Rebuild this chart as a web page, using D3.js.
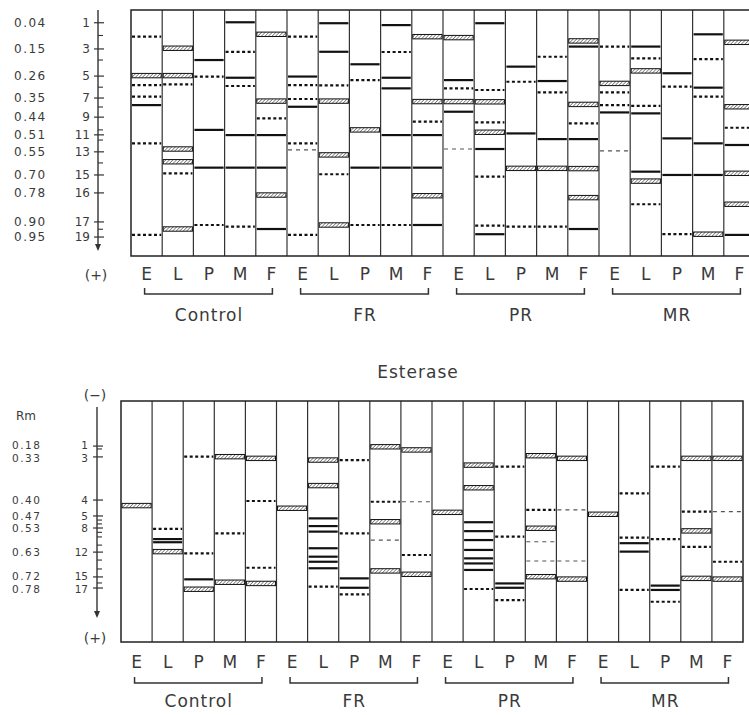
<!DOCTYPE html>
<html>
<head>
<meta charset="utf-8">
<script src="https://cdn.jsdelivr.net/npm/d3@7"></script>
<style>
  body { margin: 0; background: #fff; }
  text { font-family: "DejaVu Sans", sans-serif; fill: #3a3a3a; }
</style>
</head>
<body>
<script>
// lanes and treatment groups
const lanes = ["E", "L", "P", "M", "F"];
const groups = ["Control", "FR", "PR", "MR"];

// top gel: tick positions (Rm) and labels
const topTickNum = ["1", "3", "5", "7", "9", "11", "13", "15", "16", "17", "19"];
const topTickRm = [0.043, 0.154, 0.269, 0.362, 0.443, 0.518, 0.59, 0.688, 0.764, 0.887, 0.951];
const topRmLabel = ["0.04", "0.15", "0.26", "0.35", "0.44", "0.51", "0.55", "0.70", "0.78", "0.90", "0.95"];
const topMinorRm = [0.097, 0.201, 0.316, 0.40, 0.497, 0.54, 0.637, 0.918];

// bottom gel (esterase): relative position down the gel
const botTickNum = ["1", "3", "4", "5", "8", "12", "15", "17"];
const botTickPos = [0.187, 0.232, 0.411, 0.477, 0.527, 0.627, 0.73, 0.776];
const botRmLabel = ["0.18", "0.33", "0.40", "0.47", "0.53", "0.63", "0.72", "0.78"];
const botMinorPos = [0.199, 0.494, 0.510, 0.545, 0.564, 0.598, 0.66, 0.697, 0.755];

// bands: [position, type]  s = solid, h = hatched double, d = dashed, t = thin dashed
const topControl = [
  [[0.102,"d"],[0.267,"h"],[0.307,"d"],[0.356,"d"],[0.392,"s"],[0.554,"d"],[0.942,"d"]],
  [[0.151,"h"],[0.267,"h"],[0.304,"d"],[0.578,"h"],[0.632,"h"],[0.681,"d"],[0.917,"h"]],
  [[0.201,"s"],[0.271,"d"],[0.497,"s"],[0.657,"s"],[0.900,"d"]],
  [[0.041,"s"],[0.166,"d"],[0.276,"s"],[0.311,"d"],[0.519,"s"],[0.657,"s"],[0.907,"d"]],
  [[0.092,"h"],[0.375,"h"],[0.448,"d"],[0.519,"s"],[0.657,"s"],[0.773,"h"],[0.917,"s"]]
];
const topFR = [
  [[0.102,"d"],[0.271,"s"],[0.307,"d"],[0.366,"d"],[0.399,"s"],[0.554,"d"],[0.582,"t"],[0.942,"d"]],
  [[0.045,"s"],[0.166,"s"],[0.308,"d"],[0.375,"h"],[0.603,"h"],[0.685,"d"],[0.900,"h"]],
  [[0.219,"s"],[0.286,"d"],[0.497,"h"],[0.657,"s"],[0.900,"d"]],
  [[0.053,"s"],[0.167,"d"],[0.276,"s"],[0.321,"s"],[0.519,"s"],[0.657,"s"],[0.900,"d"]],
  [[0.102,"h"],[0.377,"h"],[0.462,"d"],[0.519,"s"],[0.657,"s"],[0.776,"h"],[0.900,"s"]]
];
const topPR = [
  [[0.106,"h"],[0.286,"s"],[0.321,"d"],[0.377,"h"],[0.420,"s"],[0.578,"t"]],
  [[0.045,"s"],[0.328,"d"],[0.378,"h"],[0.465,"d"],[0.507,"h"],[0.578,"s"],[0.695,"d"],[0.903,"d"],[0.939,"s"]],
  [[0.229,"s"],[0.293,"d"],[0.512,"s"],[0.660,"h"],[0.907,"d"]],
  [[0.187,"d"],[0.290,"s"],[0.338,"d"],[0.536,"s"],[0.660,"h"],[0.907,"d"]],
  [[0.120,"h"],[0.144,"s"],[0.389,"h"],[0.469,"d"],[0.536,"s"],[0.661,"h"],[0.784,"h"],[0.917,"s"]]
];
const topMR = [
  [[0.144,"d"],[0.300,"h"],[0.338,"d"],[0.392,"d"],[0.423,"s"],[0.586,"t"]],
  [[0.144,"s"],[0.194,"d"],[0.247,"h"],[0.395,"d"],[0.427,"s"],[0.674,"s"],[0.714,"h"],[0.812,"d"]],
  [[0.257,"s"],[0.314,"d"],[0.533,"s"],[0.688,"s"],[0.939,"d"]],
  [[0.092,"s"],[0.197,"d"],[0.318,"s"],[0.356,"d"],[0.554,"s"],[0.688,"s"],[0.939,"h"]],
  [[0.126,"h"],[0.399,"h"],[0.488,"d"],[0.561,"s"],[0.681,"h"],[0.812,"h"],[0.942,"s"]]
];

const botControl = [
  [[0.434,"h"]],
  [[0.531,"d"],[0.573,"s"],[0.586,"s"],[0.625,"h"]],
  [[0.231,"d"],[0.632,"d"],[0.740,"s"],[0.781,"h"]],
  [[0.231,"h"],[0.549,"d"],[0.752,"h"]],
  [[0.238,"h"],[0.415,"d"],[0.692,"d"],[0.757,"h"]]
];
const botFR = [
  [[0.445,"h"]],
  [[0.245,"h"],[0.351,"h"],[0.487,"s"],[0.519,"s"],[0.542,"s"],[0.611,"s"],[0.646,"s"],[0.667,"s"],[0.694,"s"],[0.770,"d"]],
  [[0.245,"d"],[0.549,"d"],[0.736,"s"],[0.775,"s"],[0.802,"d"]],
  [[0.190,"h"],[0.418,"d"],[0.501,"h"],[0.577,"t"],[0.705,"h"]],
  [[0.203,"h"],[0.418,"t"],[0.639,"d"],[0.719,"h"]]
];
const botPR = [
  [[0.462,"h"]],
  [[0.266,"h"],[0.360,"h"],[0.503,"s"],[0.540,"s"],[0.577,"s"],[0.618,"s"],[0.653,"s"],[0.674,"s"],[0.701,"s"],[0.780,"d"]],
  [[0.272,"d"],[0.563,"d"],[0.757,"s"],[0.775,"s"],[0.826,"d"]],
  [[0.227,"h"],[0.452,"d"],[0.528,"h"],[0.584,"t"],[0.664,"t"],[0.729,"h"]],
  [[0.238,"h"],[0.452,"t"],[0.664,"t"],[0.739,"h"]]
];
const botMR = [
  [[0.470,"h"]],
  [[0.383,"d"],[0.567,"d"],[0.590,"s"],[0.625,"s"],[0.784,"d"]],
  [[0.272,"d"],[0.573,"d"],[0.766,"s"],[0.784,"s"],[0.833,"d"]],
  [[0.238,"h"],[0.459,"d"],[0.539,"h"],[0.605,"d"],[0.736,"h"]],
  [[0.238,"h"],[0.459,"t"],[0.667,"d"],[0.739,"h"]]
];

const width = 749;
const height = 715;

const svg = d3.select("body")
  .append("svg")
  .attr("width", width)
  .attr("height", height);

svg.append("defs")
  .append("pattern")
  .attr("id", "hatch")
  .attr("patternUnits", "userSpaceOnUse")
  .attr("width", 2.5)
  .attr("height", 2.5)
  .attr("patternTransform", "rotate(45)")
  .append("line")
  .attr("x1", 0).attr("y1", 0).attr("x2", 0).attr("y2", 2.5)
  .attr("stroke", "#222").attr("stroke-width", 1);

const laneIds = d3.range(20);

// spread label y's so close ones do not collide
function spread(ys, gap) {
  let out = ys.slice();
  for (let k = 0; k < 10; k++) {
    for (let i = 1; i < out.length; i++) {
      const d = out[i] - out[i - 1];
      if (d < gap) {
        out[i - 1] -= (gap - d) / 2;
        out[i] += (gap - d) / 2;
      }
    }
  }
  return out;
}

function drawGel(cfg) {
  const x = d3.scaleBand().domain(laneIds).range([cfg.x0, cfg.x1]);
  const y = d3.scaleLinear().domain([0, 1]).range(cfg.yRange);
  const g = svg.append("g");

  // lane dividers
  g.selectAll(".div")
    .data(laneIds.slice(1))
    .join("line")
    .attr("x1", d => x(d)).attr("x2", d => x(d))
    .attr("y1", cfg.top).attr("y2", cfg.bottom)
    .attr("stroke", "#333").attr("stroke-width", 1.2);

  // bands
  let rows = [];
  cfg.bands.forEach((grp, gi) => {
    grp.forEach((lane, li) => {
      lane.forEach(b => rows.push({ lane: gi * 5 + li, pos: b[0], type: b[1] }));
    });
  });

  g.selectAll(".hb")
    .data(rows.filter(d => d.type === "h"))
    .join("rect")
    .attr("x", d => x(d.lane) + 1)
    .attr("width", x.bandwidth() - 2)
    .attr("y", d => y(d.pos) - 2.2)
    .attr("height", 4.4)
    .attr("fill", "url(#hatch)")
    .attr("stroke", "#111")
    .attr("stroke-width", 1);

  g.selectAll(".lb")
    .data(rows.filter(d => d.type !== "h"))
    .join("line")
    .attr("x1", d => x(d.lane) + 1)
    .attr("x2", d => x(d.lane) + x.bandwidth() - 1)
    .attr("y1", d => y(d.pos))
    .attr("y2", d => y(d.pos))
    .attr("stroke", d => d.type === "t" ? "#555" : "#111")
    .attr("stroke-width", d => d.type === "s" ? 2.2 : d.type === "d" ? 2.2 : 1.2)
    .attr("stroke-dasharray", d => d.type === "d" ? "3,2.5" : d.type === "t" ? "4,4" : null);

  // outline
  g.append("rect")
    .attr("x", cfg.x0).attr("y", cfg.top)
    .attr("width", cfg.x1 - cfg.x0).attr("height", cfg.bottom - cfg.top)
    .attr("fill", "none").attr("stroke", "#222").attr("stroke-width", 1.5);

  // lane letters
  g.selectAll(".ll")
    .data(laneIds)
    .join("text")
    .attr("x", d => x(d) + x.bandwidth() / 2)
    .attr("y", cfg.letterY)
    .attr("text-anchor", "middle")
    .attr("font-size", 17)
    .text(d => lanes[d % 5]);

  // group brackets
  const br = g.selectAll(".br")
    .data(groups)
    .join("g");
  br.append("path")
    .attr("d", (d, i) => {
      const a = x(i * 5) + x.bandwidth() / 2 - 2;
      const b = x(i * 5 + 4) + x.bandwidth() / 2 + 1;
      return `M${a},${cfg.bracketY - 6}V${cfg.bracketY}H${b}V${cfg.bracketY - 6}`;
    })
    .attr("fill", "none").attr("stroke", "#333").attr("stroke-width", 1.5);
  br.append("text")
    .attr("x", (d, i) => (x(i * 5) + x(i * 5 + 4) + x.bandwidth()) / 2)
    .attr("y", cfg.groupY)
    .attr("text-anchor", "middle")
    .attr("font-size", 17)
    .attr("letter-spacing", 1)
    .text(d => d);

  // axis
  const ax = cfg.axisX;
  g.append("line")
    .attr("x1", ax).attr("x2", ax)
    .attr("y1", cfg.axisTop).attr("y2", cfg.arrowY - 4)
    .attr("stroke", "#333").attr("stroke-width", 1.4);
  g.append("path")
    .attr("d", `M${ax - 3},${cfg.arrowY - 7}L${ax + 3},${cfg.arrowY - 7}L${ax},${cfg.arrowY}Z`)
    .attr("fill", "#333");

  g.selectAll(".mt")
    .data(cfg.minor)
    .join("line")
    .attr("x1", ax).attr("x2", ax + 5)
    .attr("y1", d => y(d)).attr("y2", d => y(d))
    .attr("stroke", "#333").attr("stroke-width", 1.1);

  g.selectAll(".Mt")
    .data(cfg.ticks)
    .join("line")
    .attr("x1", ax - 4).attr("x2", ax + 6)
    .attr("y1", d => y(d)).attr("y2", d => y(d))
    .attr("stroke", "#333").attr("stroke-width", 1.2);

  const ly = spread(cfg.ticks.map(d => y(d)), cfg.labelGap);

  g.selectAll(".tn")
    .data(ly)
    .join("text")
    .attr("x", cfg.numX)
    .attr("y", d => d + 4)
    .attr("text-anchor", "end")
    .attr("font-size", cfg.labelSize)
    .text((d, i) => cfg.nums[i]);

  g.selectAll(".rm")
    .data(ly)
    .join("text")
    .attr("x", cfg.rmX)
    .attr("y", d => d + 4)
    .attr("font-size", cfg.labelSize)
    .attr("letter-spacing", 1.5)
    .text((d, i) => cfg.rm[i]);

  return g;
}

drawGel({
  x0: 131, x1: 755, top: 10, bottom: 256,
  yRange: [12.6, 248.6],
  bands: [topControl, topFR, topPR, topMR],
  letterY: 280, bracketY: 294, groupY: 321,
  axisX: 98, axisTop: 10, arrowY: 251,
  ticks: topTickRm, nums: topTickNum, rm: topRmLabel, minor: topMinorRm,
  numX: 90, rmX: 14, labelSize: 12, labelGap: 14
});

drawGel({
  x0: 121, x1: 743, top: 401, bottom: 642,
  yRange: [401, 642],
  bands: [botControl, botFR, botPR, botMR],
  letterY: 668, bracketY: 683, groupY: 707,
  axisX: 97, axisTop: 407, arrowY: 618,
  ticks: botTickPos, nums: botTickNum, rm: botRmLabel, minor: botMinorPos,
  numX: 88, rmX: 12, labelSize: 10.5, labelGap: 12.6
});

// poles and titles
svg.append("text").attr("x", 96).attr("y", 280).attr("text-anchor", "middle")
  .attr("font-size", 14).text("(+)");
svg.append("text").attr("x", 95).attr("y", 643).attr("text-anchor", "middle")
  .attr("font-size", 14).text("(+)");
svg.append("text").attr("x", 95).attr("y", 400).attr("text-anchor", "middle")
  .attr("font-size", 14).text("(−)");
svg.append("text").attr("x", 16).attr("y", 420)
  .attr("font-size", 12).text("Rm");
svg.append("text").attr("x", 418).attr("y", 378).attr("text-anchor", "middle")
  .attr("font-size", 17).attr("letter-spacing", 1).text("Esterase");
</script>
</body>
</html>
